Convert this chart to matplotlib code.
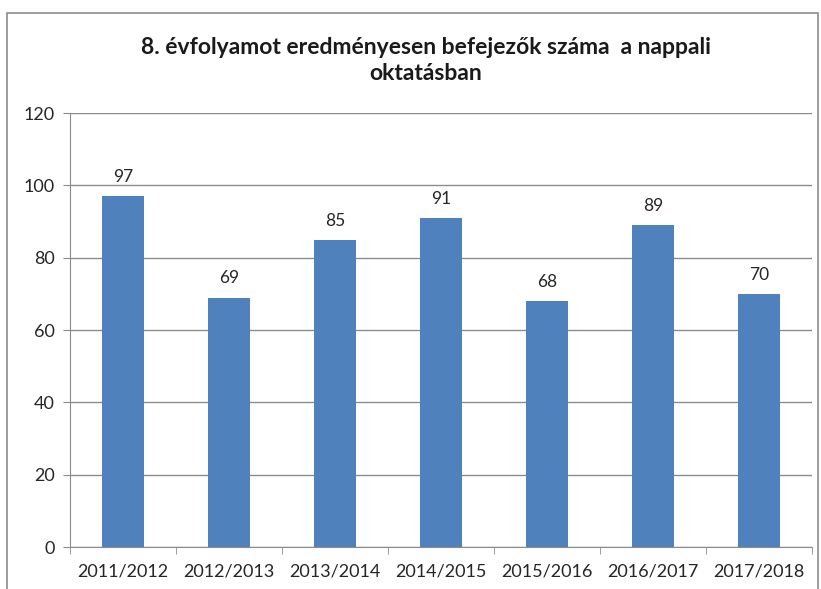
import matplotlib.pyplot as plt
from matplotlib.patches import Rectangle
import numpy as np

years = ['2011/2012', '2012/2013', '2013/2014', '2014/2015',
         '2015/2016', '2016/2017', '2017/2018']
counts = [97, 69, 85, 91, 68, 89, 70]
yticks = [0, 20, 40, 60, 80, 100, 120]

plt.rcParams['font.family'] = ['Lato', 'DejaVu Sans']

fig = plt.figure(figsize=(8.21, 5.89), dpi=100)
ax = fig.add_axes([0.0853, 0.0713, 0.9037, 0.7367])

# outer chart frame
fig.patches.append(Rectangle((0.0085, -0.05), 0.988, 1.028, transform=fig.transFigure,
                             fill=False, edgecolor='#8c8c8c', linewidth=1.2))

x = np.arange(len(years))
ax.bar(x, counts, width=0.4, color='#4f81bd', zorder=3)
for xi, v in zip(x, counts):
    ax.annotate(str(v), (xi, v), xytext=(0, 8), textcoords='offset points',
                ha='center', va='bottom', fontsize=12.5, color='#262626')

ax.set_xlim(-0.5, len(years) - 0.5)
ax.set_ylim(0, 120)
ax.set_yticks(yticks)
ax.set_xticks(x)
ax.set_xticklabels(years)
ax.set_xticks(np.arange(len(years) + 1) - 0.5, minor=True)
ax.tick_params(axis='x', which='major', length=0, pad=12, labelsize=13, labelcolor='#262626')
ax.tick_params(axis='x', which='minor', length=5, color='#8c8c8c')
ax.tick_params(axis='y', length=5, color='#8c8c8c', labelsize=13, labelcolor='#262626', pad=6)
ax.grid(axis='y', color='#8c8c8c', linewidth=1, zorder=0)
for s in ['top', 'right']:
    ax.spines[s].set_visible(False)
for s in ['left', 'bottom']:
    ax.spines[s].set_color('#8c8c8c')

fig.text(0.519, 0.898, '8. évfolyamot eredményesen befejezők száma  a nappali\noktatásban',
         ha='center', va='center', fontsize=16.5, fontweight='bold', color='#1a1a1a',
         linespacing=1.3)

fig.savefig('out.png', dpi=100)
